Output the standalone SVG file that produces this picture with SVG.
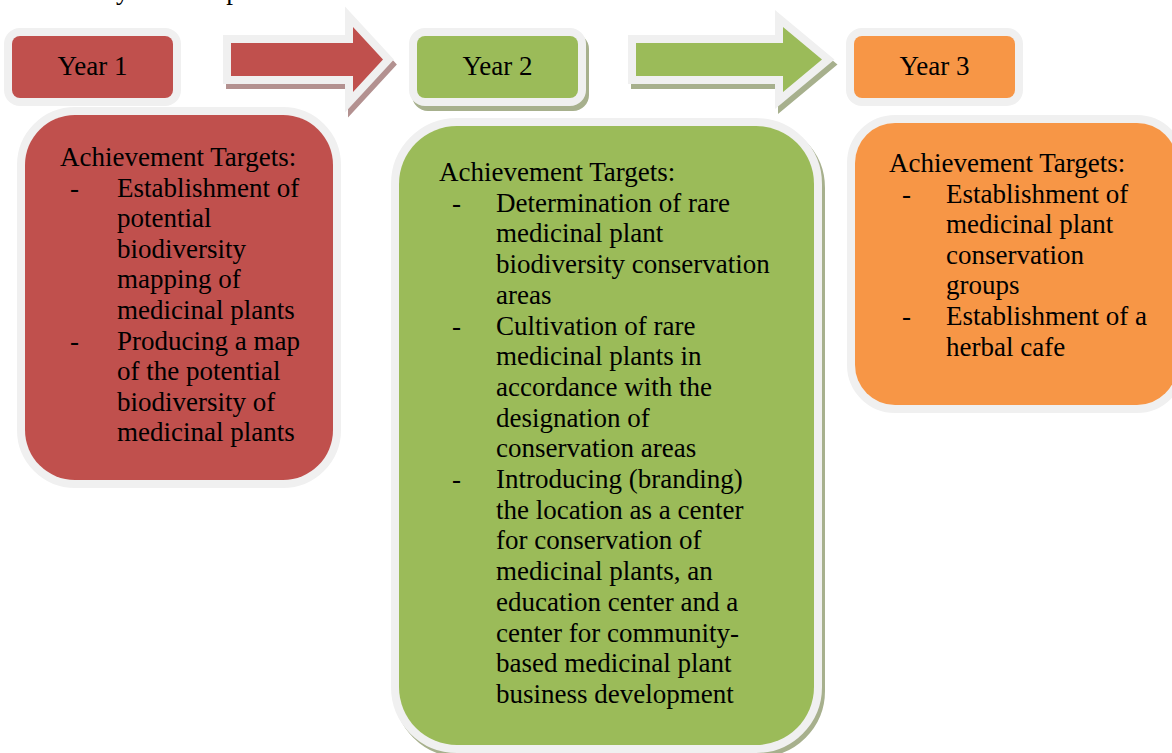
<svg xmlns="http://www.w3.org/2000/svg" width="1172" height="753" viewBox="0 0 1172 753">
  <style>
    .txt { font-family: "Liberation Serif", "Times New Roman", serif; font-size: 27px; fill: #000; }
    .ring { stroke: #f0f0f0; stroke-width: 16; stroke-linejoin: miter; paint-order: stroke; }
    .red { fill: #c0504d; }
    .green { fill: #9bbb59; }
    .orange { fill: #f79646; }
    .shadow-red { fill: #b39190; stroke: #b39190; stroke-width: 16; }
    .shadow-green { fill: #a7b08d; stroke: #a7b08d; stroke-width: 16; }
  </style>

  <!-- page caption running off the top edge -->
  <text class="txt" x="41" y="-1">Activity Roadmap</text>

  <!-- year labels -->
  <g id="year1">
    <rect class="red ring" x="12" y="36" width="161" height="62" rx="8"/>
    <text class="txt" x="92.5" y="75" text-anchor="middle">Year 1</text>
  </g>
  <g id="year2">
    <rect class="shadow-green" x="420" y="41" width="161" height="62" rx="8"/>
    <rect class="green ring" x="417" y="36" width="161" height="62" rx="8"/>
    <text class="txt" x="497.5" y="75" text-anchor="middle">Year 2</text>
  </g>
  <g id="year3">
    <rect class="orange ring" x="854" y="36" width="161" height="62" rx="8"/>
    <text class="txt" x="934.5" y="75" text-anchor="middle">Year 3</text>
  </g>

  <!-- block arrows between years -->
  <g id="connectors">
    <path class="shadow-red" transform="translate(3,5)" d="M231,43 H353 V27 L383,59.5 L353,92 V76 H231 Z"/>
    <path class="red ring" d="M231,43 H353 V27 L383,59.5 L353,92 V76 H231 Z"/>
    <path class="shadow-green" transform="translate(3,5)" d="M636,43 H783 V27 L822,59.5 L783,92 V76 H636 Z"/>
    <path class="green ring" d="M636,43 H783 V27 L822,59.5 L783,92 V76 H636 Z"/>
  </g>

  <!-- year 1 targets -->
  <g id="targets1">
    <rect class="red ring" x="25" y="115" width="308" height="365" rx="50"/>
    <text class="txt" x="60" y="166">Achievement Targets:</text>
    <text class="txt" x="70" y="196.6">-</text>
    <text class="txt" x="70" y="349.6">-</text>
    <text class="txt">
      <tspan x="117" y="196.6">Establishment of</tspan>
      <tspan x="117" y="227.2">potential</tspan>
      <tspan x="117" y="257.8">biodiversity</tspan>
      <tspan x="117" y="288.4">mapping of</tspan>
      <tspan x="117" y="319">medicinal plants</tspan>
      <tspan x="117" y="349.6">Producing a map</tspan>
      <tspan x="117" y="380.2">of the potential</tspan>
      <tspan x="117" y="410.8">biodiversity of</tspan>
      <tspan x="117" y="441.4">medicinal plants</tspan>
    </text>
  </g>

  <!-- year 2 targets -->
  <g id="targets2">
    <rect class="shadow-green" x="402" y="130" width="415" height="619" rx="58"/>
    <rect class="green ring" x="399" y="126" width="415" height="619" rx="58"/>
    <text class="txt" x="439" y="181">Achievement Targets:</text>
    <text class="txt" x="452" y="211.7">-</text>
    <text class="txt" x="452" y="334.5">-</text>
    <text class="txt" x="452" y="488">-</text>
    <text class="txt">
      <tspan x="496" y="211.7">Determination of rare</tspan>
      <tspan x="496" y="242.4">medicinal plant</tspan>
      <tspan x="496" y="273.1">biodiversity conservation</tspan>
      <tspan x="496" y="303.8">areas</tspan>
      <tspan x="496" y="334.5">Cultivation of rare</tspan>
      <tspan x="496" y="365.2">medicinal plants in</tspan>
      <tspan x="496" y="395.9">accordance with the</tspan>
      <tspan x="496" y="426.6">designation of</tspan>
      <tspan x="496" y="457.3">conservation areas</tspan>
      <tspan x="496" y="488">Introducing (branding)</tspan>
      <tspan x="496" y="518.7">the location as a center</tspan>
      <tspan x="496" y="549.4">for conservation of</tspan>
      <tspan x="496" y="580.1">medicinal plants, an</tspan>
      <tspan x="496" y="610.8">education center and a</tspan>
      <tspan x="496" y="641.5">center for community-</tspan>
      <tspan x="496" y="672.2">based medicinal plant</tspan>
      <tspan x="496" y="702.9">business development</tspan>
    </text>
  </g>

  <!-- year 3 targets -->
  <g id="targets3">
    <rect class="orange ring" x="855" y="123" width="322" height="282" rx="40"/>
    <text class="txt" x="889" y="172">Achievement Targets:</text>
    <text class="txt" x="902" y="202.6">-</text>
    <text class="txt" x="902" y="325">-</text>
    <text class="txt">
      <tspan x="946" y="202.6">Establishment of</tspan>
      <tspan x="946" y="233.2">medicinal plant</tspan>
      <tspan x="946" y="263.8">conservation</tspan>
      <tspan x="946" y="294.4">groups</tspan>
      <tspan x="946" y="325">Establishment of a</tspan>
      <tspan x="946" y="355.6">herbal cafe</tspan>
    </text>
  </g>
</svg>
